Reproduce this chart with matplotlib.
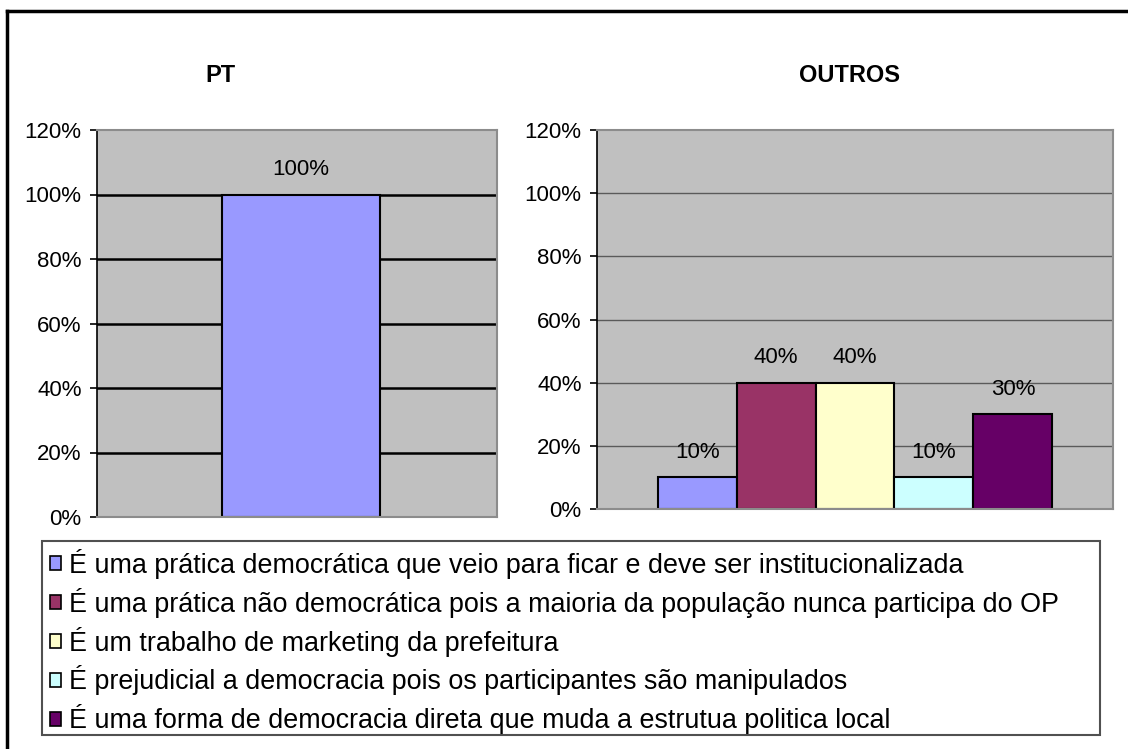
import matplotlib.pyplot as plt
from matplotlib.patches import Patch, Rectangle
from matplotlib.lines import Line2D

plt.rcParams['font.family'] = ['Liberation Sans', 'DejaVu Sans']

# data
labels = [
    'É uma prática democrática que veio para ficar e deve ser institucionalizada',
    'É uma prática não democrática pois a maioria da população nunca participa do OP',
    'É um trabalho de marketing da prefeitura',
    'É prejudicial a democracia pois os participantes são manipulados',
    'É uma forma de democracia direta que muda a estrutua politica local',
]
colors = ['#9999FF', '#993366', '#FFFFCC', '#CCFFFF', '#660066']
pt_values = [100]
outros_values = [10, 40, 40, 10, 30]
yticks = [0, 20, 40, 60, 80, 100, 120]

W, H = 1128, 749
fig = plt.figure(figsize=(W / 100, H / 100), dpi=100)


def box(x0, y0, x1, y1):
    # pixel box (top-left origin) -> figure fraction
    return [x0 / W, 1 - y1 / H, (x1 - x0) / W, (y1 - y0) / H]


def style_axes(ax, grid_color, grid_lw):
    ax.set_facecolor('#C0C0C0')
    ax.set_ylim(0, 120)
    ax.set_yticks(yticks)
    ax.set_yticklabels([f'{v}%' for v in yticks], fontsize=16)
    ax.set_xticks([])
    for v in yticks[1:-1]:
        ax.axhline(v, color=grid_color, lw=grid_lw, zorder=1)
    for s in ['top', 'right', 'bottom']:
        ax.spines[s].set_color('#8C8C8C')
        ax.spines[s].set_linewidth(1.5)
    ax.spines['left'].set_color('black')
    ax.spines['left'].set_linewidth(1.2)
    ax.tick_params(axis='y', length=5, width=1.2, pad=6, color='black')


# PT panel
ax1 = fig.add_axes(box(97, 130, 497, 517))
style_axes(ax1, 'black', 1.8)
ax1.set_xlim(-0.51, 0.49)
b = ax1.bar([0], pt_values, width=0.395, color=colors[0], edgecolor='black', lw=1.5, zorder=2)
for rect, v in zip(b, pt_values):
    ax1.annotate(f'{v}%', (rect.get_x() + rect.get_width() / 2, v), xytext=(0, 18),
                 textcoords='offset points', ha='center', va='center', fontsize=16)

# OUTROS panel
ax2 = fig.add_axes(box(597, 130, 1113, 509))
style_axes(ax2, '#5A5A5A', 1.0)
ax2.set_xlim(-0.5, 0.5)
bw = 0.153
for i, (v, c) in enumerate(zip(outros_values, colors)):
    x = (i - 2) * bw
    ax2.bar([x], [v], width=bw, color=c, edgecolor='black', lw=1.5, zorder=2)
    ax2.annotate(f'{v}%', (x, v), xytext=(0, 18), textcoords='offset points',
                 ha='center', va='center', fontsize=16)

fig.text(220 / W, 1 - 75 / H, 'PT', ha='center', va='center', fontsize=17, fontweight='bold')
fig.text(850 / W, 1 - 75 / H, 'OUTROS', ha='center', va='center', fontsize=17, fontweight='bold')

# legend frame
lx0, ly0, lx1, ly1 = 42, 541, 1100, 735
fig.patches.append(Rectangle((lx0 / W, 1 - ly1 / H), (lx1 - lx0) / W, (ly1 - ly0) / H,
                             transform=fig.transFigure, facecolor='white',
                             edgecolor='#505050', lw=1.5, zorder=0))
handles = [Patch(facecolor=c, edgecolor='black', lw=1.2) for c in colors]
fig.legend(handles, labels, loc='upper left', bbox_to_anchor=(39 / W, 1 - 538 / H),
           frameon=False, fontsize=19.4, handlelength=0.42, handleheight=0.42,
           handletextpad=0.3, labelspacing=0.33, borderaxespad=0)

# outer frame (cropped on right and bottom)
fig.add_artist(Line2D([7 / W, 7 / W], [0, 1 - 11 / H], transform=fig.transFigure, color='black', lw=2.5))
fig.add_artist(Line2D([7 / W, 1], [1 - 11 / H, 1 - 11 / H], transform=fig.transFigure, color='black', lw=2.5))

fig.savefig('out.png', dpi=100)
